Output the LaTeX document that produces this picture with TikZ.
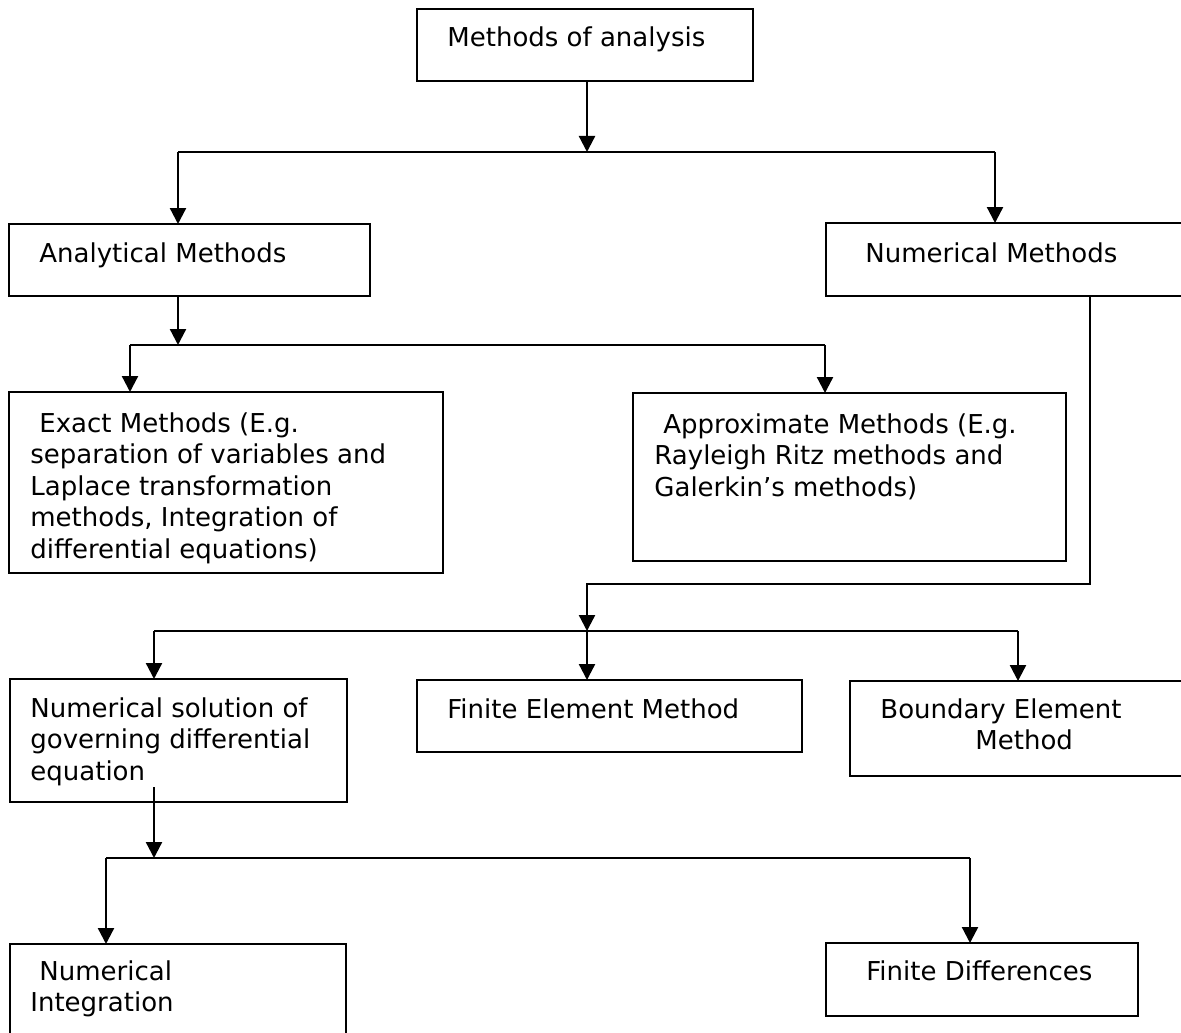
\documentclass[tikz,border=0pt]{standalone}
\usepackage{fontspec}
\setmainfont{DejaVu Sans}
\usetikzlibrary{arrows.meta,calc}
\newcommand\mkbox[5]{\node[box, minimum width={(#4-#2)*0.5pt}, minimum height={(#5-#3)*0.5pt}] (#1) at (#2,#3) {};}
\newcommand\lines[1]{\parbox[t]{9cm}{\raggedright #1}}
\begin{document}
\begin{tikzpicture}[x=0.5pt,y=-0.5pt,
  box/.style={draw, line width=1pt, inner sep=0pt, outer sep=0pt, anchor=north west},
  txt/.style={inner sep=0pt, anchor=base west, font=\fontsize{13pt}{15.75pt}\selectfont},
  conn/.style={line width=1.15pt},
  arr/.style={conn, -{Triangle[length=8pt,width=8pt]}}]
\useasboundingbox (0,0) rectangle (1181,1032);
% boxes
\mkbox{top}{417}{9}{753}{81}
\mkbox{an}{9}{224}{370}{296}
\mkbox{nm}{826}{223}{1195}{296}
\mkbox{ex}{9}{392}{443}{573}
\mkbox{ap}{633}{393}{1066}{561}
\mkbox{ns}{10}{679}{347}{802}
\mkbox{fe}{417}{680}{802}{752}
\mkbox{be}{850}{681}{1195}{776}
\mkbox{ni}{10}{944}{346}{1045}
\mkbox{fd}{826}{943}{1138}{1016}
% texts
\node[txt] (topt) at (447,46.5) {Methods of analysis};
\node[txt] (ant) at (39,262) {Analytical Methods};
\node[txt] (nmt) at (865,262) {Numerical Methods};
\node[txt] (ext) at (30,432) {\lines{\hspace*{4.5pt}Exact Methods (E.g.\\separation of variables and\\Laplace transformation\\methods, Integration of\\differential equations)}};
\node[txt] (apt) at (654,433) {\lines{\hspace*{4.5pt}Approximate Methods (E.g.\\Rayleigh Ritz methods and\\Galerkin’s methods)}};
\node[txt] (nst) at (30,717) {\lines{Numerical solution of\\governing differential\\equation}};
\node[txt] (fet) at (447,718) {Finite Element Method};
\node[txt] (bet) at (880,718) {\lines{Boundary Element\\\hspace*{47.5pt}Method}};
\node[txt] (nit) at (30,980) {\lines{\hspace*{4.5pt}Numerical\\Integration}};
\node[txt] (fdt) at (866,980) {Finite Differences};
% junction coordinates
\coordinate (h1m) at (587,152);
\coordinate (h1l) at (178,152);
\coordinate (h1r) at (995,152);
\coordinate (h2m) at (178,345);
\coordinate (h2l) at (130,345);
\coordinate (h2r) at (825,345);
\coordinate (v1) at (1090,584);
\coordinate (h3m) at (587,631);
\coordinate (h3l) at (154,631);
\coordinate (h3r) at (1018,631);
\coordinate (v2) at (154,787);
\coordinate (h4m) at (154,858);
\coordinate (h4l) at (106,858);
\coordinate (h4r) at (970,858);
% connectors
\draw[arr] (top.south -| h1m) -- (h1m);
\draw[conn] (h1l) -- (h1r);
\draw[arr] (h1l) -- (h1l |- an.north);
\draw[arr] (h1r) -- (h1r |- nm.north);
\draw[arr] (an.south -| h2m) -- (h2m);
\draw[conn] (h2l) -- (h2r);
\draw[arr] (h2l) -- (h2l |- ex.north);
\draw[arr] (h2r) -- (h2r |- ap.north);
\draw[arr] (nm.south -| v1) -- (v1) -| (h3m);
\draw[conn] (h3l) -- (h3r);
\draw[arr] (h3l) -- (h3l |- ns.north);
\draw[arr] (h3m) -- (h3m |- fe.north);
\draw[arr] (h3r) -- (h3r |- be.north);
\draw[arr] (v2) -- (h4m);
\draw[conn] (h4l) -- (h4r);
\draw[arr] (h4l) -- (h4l |- ni.north);
\draw[arr] (h4r) -- (h4r |- fd.north);
\end{tikzpicture}
\end{document}
